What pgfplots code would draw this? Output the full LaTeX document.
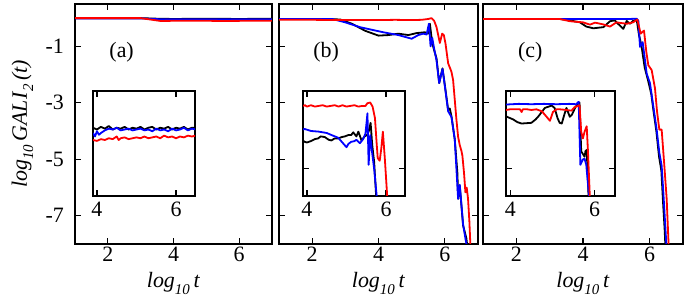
\documentclass[border=0pt]{standalone}
\usepackage{fontspec}
\setmainfont{Liberation Serif}
\usepackage{pgfplots}
\pgfplotsset{compat=1.18}
\newcommand{\fs}{\fontsize{22}{26}\selectfont}
\newcommand{\sub}[1]{\raisebox{-0.28em}{\fontsize{15}{17}\selectfont\textit{#1}}}
\pgfplotsset{
  base/.style={scale only axis, anchor=south west,
    tick align=inside, major tick length=6bp,
    axis line style={line width=1.1bp},
    every tick/.style={line width=1.1bp, black},
    tick label style={font=\fs, inner sep=0pt},
    label style={font=\fs},
    axis background/.style={fill=white},
    every axis plot/.append style={line width=1.8bp, line join=round, no markers},
    clip=true},
  mainax/.style={base, height=240bp, xmin=1, xmax=7, ymin=-8, ymax=0.5,
    xtick={2,4,6}, xticklabels={2,4,6}, ytick={-1,-3,-5,-7},
    xticklabel style={yshift=-3bp},
    yticklabel style={xshift=-11bp},
    xlabel={\textit{log}\sub{10}\,\textit{t}},
    xlabel style={at={(axis description cs:0.5,-0.183)}, anchor=base}},
  inax/.style={base, height=105bp, xmin=3.9, xmax=6.48,
    xtick={4,6}, xticklabels={4,6}, xticklabel style={yshift=-6bp}},
}
\begin{document}
\fs
\begin{tikzpicture}
\path[use as bounding box] (0,0) rectangle (700bp,300bp);
% ---------------- panel (a)
\begin{axis}[mainax, at={(75bp,56bp)}, width=197bp,
  yticklabels={-1,-3,-5,-7},
  ylabel={\textit{log}\sub{10}\,\textit{GALI}\sub{2}\,\textit{(t)}},
  ylabel style={at={(axis description cs:-0.2437,0.5)}, anchor=base}]
\addplot[black] coordinates {(1,0) (2,0) (3,0) (3.5,-0.02) (4,-0.03) (5,-0.02) (6,-0.03) (7,-0.02)};
\addplot[blue] coordinates {(1,-0.01) (3,-0.01) (3.6,-0.04) (5,-0.04) (7,-0.04)};
\addplot[red] coordinates {(1,0) (3,0) (3.6,-0.1) (4.5,-0.09) (5.5,-0.1) (7,-0.09)};
\node at (axis cs:2.42,-1.2) {(a)};
\end{axis}
% ---------------- panel (b)
\begin{axis}[mainax, at={(279bp,56bp)}, width=199bp, yticklabels={}]
\addplot[black] coordinates {(1,-0.03) (2.5,-0.03) (2.85,-0.05) (3.2,-0.2) (3.6,-0.45) (4.0,-0.62) (4.3,-0.6) (4.6,-0.55) (4.9,-0.6) (5.15,-0.53) (5.4,-0.5) (5.5,-0.55) (5.55,-0.2) (5.6,-0.7) (5.65,-1.02) (5.75,-1.43) (5.83,-2.3) (5.93,-1.78) (6.0,-2.37) (6.1,-3.25) (6.15,-3.2) (6.2,-3.48) (6.3,-4.3) (6.38,-5.5) (6.4,-6.4) (6.45,-5.94) (6.55,-7.34) (6.65,-7.8) (6.7,-8.3)};
\addplot[blue] coordinates {(1,-0.03) (2.6,-0.03) (3.0,-0.15) (3.44,-0.32) (4.14,-0.5) (4.6,-0.6) (5.0,-0.73) (5.2,-0.6) (5.35,-0.55) (5.45,-0.58) (5.52,-0.2) (5.57,-1.0) (5.62,-0.7) (5.68,-1.1) (5.75,-1.5) (5.83,-2.3) (5.93,-1.8) (6.0,-2.4) (6.1,-3.3) (6.2,-3.5) (6.3,-4.3) (6.4,-6.4) (6.45,-5.9) (6.55,-7.3) (6.62,-7.8) (6.7,-8.3)};
\addplot[red] coordinates {(1,-0.06) (2,-0.06) (3,-0.07) (4,-0.07) (4.5,-0.06) (5,-0.07) (5.3,-0.06) (5.5,-0.03) (5.6,0.0) (5.68,-0.1) (5.75,-0.32) (5.8,-0.6) (5.85,-0.88) (5.92,-0.55) (5.97,-0.6) (6.02,-0.9) (6.1,-1.6) (6.2,-1.9) (6.25,-2.2) (6.3,-2.9) (6.35,-3.6) (6.4,-4.2) (6.45,-4.5) (6.5,-4.7) (6.53,-4.88) (6.58,-5.5) (6.62,-6.17) (6.66,-6.0) (6.7,-6.4) (6.74,-7.2) (6.78,-8.3)};
\node at (axis cs:2.42,-1.2) {(b)};
\end{axis}
% ---------------- panel (c)
\begin{axis}[mainax, at={(483bp,56bp)}, width=200bp, yticklabels={}]
\addplot[black] coordinates {(1,-0.03) (3.3,-0.03) (3.6,-0.08) (3.91,-0.15) (4.1,-0.3) (4.31,-0.36) (4.61,-0.32) (4.81,-0.11) (4.95,-0.08) (5.05,-0.2) (5.21,-0.38) (5.31,-0.1) (5.41,-0.2) (5.5,-0.1) (5.61,-0.05) (5.68,-0.6) (5.75,-0.95) (5.85,-1.75) (5.95,-2.2) (6.05,-2.7) (6.11,-3.25) (6.2,-4.0) (6.28,-4.9) (6.35,-5.4) (6.4,-6.5) (6.45,-7.5) (6.48,-8.3)};
\addplot[blue] coordinates {(1,-0.03) (5.4,-0.03) (5.61,-0.02) (5.66,-0.09) (5.71,-1.02) (5.79,-0.85) (5.91,-1.96) (6.01,-2.31) (6.11,-3.13) (6.21,-3.95) (6.29,-4.77) (6.36,-5.23) (6.41,-6.17) (6.49,-7.8) (6.51,-8.3)};
\addplot[red] coordinates {(1,-0.03) (3.3,-0.03) (3.61,-0.11) (4.0,-0.15) (4.21,-0.23) (4.36,-0.16) (4.6,-0.22) (4.81,-0.3) (5.0,-0.15) (5.31,-0.2) (5.5,-0.15) (5.63,-0.05) (5.68,-0.3) (5.73,-0.55) (5.83,-0.44) (5.9,-1.2) (5.96,-1.67) (6.06,-1.84) (6.16,-2.49) (6.22,-3.3) (6.29,-3.95) (6.36,-3.95) (6.44,-5.23) (6.51,-6.4) (6.56,-7.8) (6.58,-8.3)};
\node at (axis cs:2.42,-1.2) {(c)};
\end{axis}
% ---------------- inset (a)
\begin{axis}[inax, at={(93bp,104bp)}, width=102bp, ymin=-0.4, ymax=0.2, ytick=\empty]
\addplot[black] coordinates {(3.9,-0.01) (4.0,-0.02) (4.1,-0.005) (4.2,-0.015) (4.3,0.0) (4.4,-0.02) (4.5,-0.01) (4.6,-0.015) (4.7,-0.005) (4.8,-0.02) (4.9,-0.01) (5.0,-0.015) (5.1,-0.005) (5.2,-0.02) (5.3,-0.01) (5.4,-0.005) (5.5,-0.02) (5.6,-0.01) (5.7,-0.015) (5.8,-0.005) (5.9,-0.02) (6.0,-0.01) (6.1,-0.015) (6.2,-0.005) (6.3,-0.02) (6.4,-0.01) (6.5,-0.01)};
\addplot[blue] coordinates {(3.9,-0.04) (3.95,-0.06) (4.0,-0.03) (4.05,-0.05) (4.1,-0.04) (4.2,-0.025) (4.3,-0.015) (4.4,-0.02) (4.5,-0.01) (4.6,-0.025) (4.7,-0.02) (4.8,-0.015) (4.9,-0.025) (5.0,-0.02) (5.1,-0.015) (5.2,-0.025) (5.3,-0.02) (5.4,-0.03) (5.5,-0.015) (5.6,-0.025) (5.7,-0.02) (5.8,-0.03) (5.9,-0.015) (6.0,-0.025) (6.1,-0.02) (6.2,-0.01) (6.3,-0.025) (6.4,-0.015) (6.5,-0.02)};
\addplot[red] coordinates {(3.9,-0.08) (4.0,-0.085) (4.1,-0.075) (4.2,-0.08) (4.3,-0.07) (4.4,-0.075) (4.5,-0.06) (4.55,-0.08) (4.6,-0.07) (4.7,-0.065) (4.8,-0.075) (4.9,-0.07) (5.0,-0.065) (5.1,-0.07) (5.2,-0.06) (5.3,-0.07) (5.4,-0.065) (5.5,-0.06) (5.6,-0.07) (5.7,-0.055) (5.8,-0.065) (5.9,-0.06) (6.0,-0.07) (6.1,-0.06) (6.2,-0.065) (6.3,-0.055) (6.4,-0.06) (6.5,-0.055)};
\end{axis}
% ---------------- inset (b)
\begin{axis}[inax, at={(303bp,104bp)}, width=102bp, ymin=-1.4, ymax=0.15, ytick={-1}, yticklabels={}]
\addplot[black] coordinates {(3.9,-0.58) (3.94,-0.6) (4.0,-0.61) (4.1,-0.59) (4.2,-0.56) (4.28,-0.55) (4.35,-0.52) (4.45,-0.53) (4.55,-0.57) (4.62,-0.58) (4.7,-0.55) (4.79,-0.55) (4.88,-0.53) (4.96,-0.52) (5.05,-0.5) (5.12,-0.5) (5.17,-0.46) (5.25,-0.52) (5.3,-0.45) (5.38,-0.58) (5.46,-0.52) (5.52,-0.5) (5.56,-0.45) (5.61,-0.32) (5.65,-0.64) (5.7,-0.9) (5.76,-1.5)};
\addplot[blue] coordinates {(3.9,-0.42) (3.94,-0.41) (4.1,-0.44) (4.3,-0.45) (4.5,-0.47) (4.62,-0.5) (4.79,-0.54) (4.91,-0.62) (5.0,-0.68) (5.05,-0.63) (5.12,-0.6) (5.2,-0.59) (5.25,-0.57) (5.34,-0.62) (5.42,-0.56) (5.48,-0.48) (5.53,-0.18) (5.56,-0.94) (5.6,-0.5) (5.64,-0.72) (5.7,-1.0) (5.78,-1.5)};
\addplot[red] coordinates {(3.9,-0.07) (3.95,-0.06) (4.0,-0.08) (4.1,-0.06) (4.2,-0.08) (4.3,-0.07) (4.4,-0.06) (4.5,-0.08) (4.6,-0.07) (4.7,-0.06) (4.8,-0.08) (4.9,-0.06) (5.0,-0.08) (5.1,-0.07) (5.2,-0.06) (5.3,-0.08) (5.4,-0.07) (5.48,-0.07) (5.53,-0.03) (5.6,-0.02) (5.66,-0.08) (5.72,-0.25) (5.76,-0.6) (5.79,-0.84) (5.84,-0.88) (5.88,-0.7) (5.92,-0.45) (5.97,-0.85) (6.04,-1.5)};
\end{axis}
% ---------------- inset (c)
\begin{axis}[inax, at={(506bp,104bp)}, width=109bp, ymin=-1.4, ymax=0.15, ytick={-1}, yticklabels={}]
\addplot[black] coordinates {(3.9,-0.22) (3.92,-0.23) (4.07,-0.27) (4.17,-0.31) (4.27,-0.33) (4.5,-0.32) (4.6,-0.27) (4.66,-0.23) (4.82,-0.1) (4.98,-0.065) (5.05,-0.1) (5.12,-0.25) (5.17,-0.32) (5.22,-0.33) (5.28,-0.2) (5.33,-0.1) (5.41,-0.23) (5.46,-0.2) (5.55,-0.08) (5.6,-0.05) (5.64,-0.02) (5.68,-0.74) (5.76,-0.82) (5.78,-0.74) (5.81,-0.72) (5.86,-1.5)};
\addplot[blue] coordinates {(3.9,-0.05) (4.2,-0.04) (4.5,-0.045) (4.8,-0.04) (5.1,-0.045) (5.4,-0.04) (5.56,-0.045) (5.62,-0.01) (5.66,-0.94) (5.72,-0.86) (5.76,-0.85) (5.8,-0.94) (5.88,-1.5)};
\addplot[red] coordinates {(3.9,-0.13) (4.0,-0.12) (4.15,-0.12) (4.23,-0.12) (4.27,-0.16) (4.3,-0.12) (4.4,-0.12) (4.5,-0.13) (4.62,-0.12) (4.75,-0.15) (4.86,-0.23) (4.94,-0.29) (5.01,-0.16) (5.1,-0.12) (5.17,-0.12) (5.33,-0.13) (5.45,-0.14) (5.52,-0.09) (5.64,-0.06) (5.68,-0.45) (5.72,-0.55) (5.76,-0.45) (5.81,-0.37) (5.84,-0.74) (5.89,-1.5)};
\end{axis}
\end{tikzpicture}
\end{document}
